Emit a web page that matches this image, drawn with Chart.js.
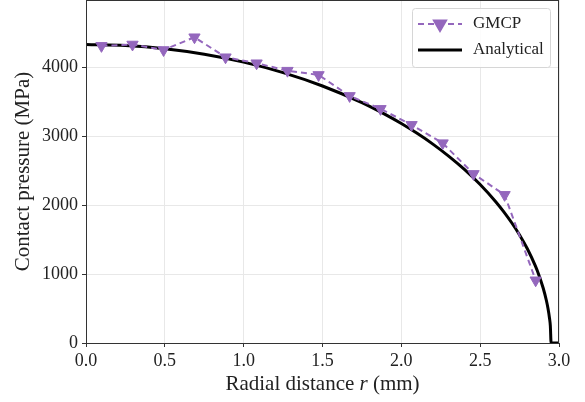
<!DOCTYPE html>
<html>
<head>
<meta charset="utf-8">
<script src="https://cdn.jsdelivr.net/npm/chart.js@4.4.1/dist/chart.umd.min.js"></script>
<style>
  html, body { margin: 0; padding: 0; background: #fff; }
  #wrap { width: 585px; height: 402px; }
</style>
</head>
<body>
<div id="wrap"><canvas id="chart"></canvas></div>
<script>
// radial positions (mm) and pressures (MPa)
const gmcpR = [0.098, 0.295, 0.492, 0.688, 0.885, 1.082, 1.278, 1.475, 1.672, 1.868, 2.065, 2.262, 2.458, 2.655, 2.852];
const gmcpP = [4310, 4330, 4250, 4435, 4145, 4058, 3950, 3888, 3584, 3396, 3164, 2899, 2453, 2149, 910];

const analyticR = [0, 0.25, 0.5, 0.75, 1.0, 1.25, 1.5, 1.75, 1.9, 2.0, 2.1, 2.2, 2.3, 2.4, 2.5, 2.6, 2.65, 2.7, 2.75, 2.8, 2.85, 2.87, 2.9, 2.92, 2.93, 2.94, 2.945, 2.95, 3.0];
const analyticP = [4330, 4314, 4267, 4188, 4074, 3922, 3728, 3486, 3312, 3183, 3041, 2885, 2711, 2518, 2299, 2046, 1902, 1744, 1567, 1363, 1118, 1002, 794, 616, 503, 356, 252, 0, 0];

const xTicks = [0, 0.5, 1.0, 1.5, 2.0, 2.5, 3.0];
const yTicks = [0, 1000, 2000, 3000, 4000];

const PURPLE = "#9467bd";
const SERIF = "'Liberation Serif', 'DejaVu Serif', serif";

const toPoints = (xs, ys) => xs.map((x, i) => ({ x: x, y: ys[i] }));

// frame, x title with italic r, and the legend box
const decorations = {
    id: "decorations",
    afterDraw(chart) {
        const ctx = chart.ctx;
        const a = chart.chartArea;
        ctx.save();
        ctx.strokeStyle = "#333";
        ctx.lineWidth = 1;
        ctx.strokeRect(a.left + 0.5, a.top + 0.5, a.right - a.left - 1, a.bottom - a.top);

        // x axis title
        ctx.fillStyle = "#222";
        ctx.textBaseline = "alphabetic";
        const parts = [
            ["Radial distance ", "21px " + SERIF],
            ["r", "italic 21px " + SERIF],
            [" (mm)", "21px " + SERIF],
        ];
        let total = 0;
        parts.forEach((p) => { ctx.font = p[1]; total += ctx.measureText(p[0]).width; });
        let x = (a.left + a.right) / 2 - total / 2;
        parts.forEach((p) => {
            ctx.font = p[1];
            ctx.fillText(p[0], x, 390);
            x += ctx.measureText(p[0]).width;
        });

        // legend
        const bx = 412, by = 8, bw = 138, bh = 59;
        ctx.beginPath();
        ctx.roundRect(bx + 0.5, by + 0.5, bw, bh, 3);
        ctx.fillStyle = "rgba(255,255,255,0.85)";
        ctx.fill();
        ctx.strokeStyle = "#d6d6d6";
        ctx.stroke();

        const lx0 = 418, lx1 = 462, y1 = 24, y2 = 50;
        ctx.strokeStyle = PURPLE;
        ctx.lineWidth = 2;
        ctx.setLineDash([6, 4]);
        ctx.beginPath();
        ctx.moveTo(lx0, y1);
        ctx.lineTo(lx1, y1);
        ctx.stroke();
        ctx.setLineDash([]);
        ctx.fillStyle = PURPLE;
        Chart.helpers.drawPoint(ctx, {
            pointStyle: "triangle", rotation: 180, radius: 7, borderWidth: 1
        }, (lx0 + lx1) / 2, y1);

        ctx.strokeStyle = "#000";
        ctx.lineWidth = 3;
        ctx.beginPath();
        ctx.moveTo(lx0, y2);
        ctx.lineTo(lx1, y2);
        ctx.stroke();

        ctx.fillStyle = "#222";
        ctx.font = "17px " + SERIF;
        ctx.textBaseline = "middle";
        ctx.textAlign = "left";
        ctx.fillText("GMCP", 473, y1);
        ctx.fillText("Analytical", 473, y2);
        ctx.restore();
    },
};

new Chart(document.getElementById("chart"), {
    type: "scatter",
    data: {
        datasets: [
            {
                label: "Analytical",
                data: toPoints(analyticR, analyticP),
                showLine: true,
                borderColor: "#000",
                borderWidth: 3,
                pointRadius: 0,
                cubicInterpolationMode: "monotone",
                order: 2,
            },
            {
                label: "GMCP",
                data: toPoints(gmcpR, gmcpP),
                showLine: true,
                borderColor: PURPLE,
                borderWidth: 2,
                borderDash: [6, 4],
                pointStyle: "triangle",
                rotation: 180,
                pointRadius: 6.5,
                pointBackgroundColor: PURPLE,
                pointBorderColor: PURPLE,
                pointBorderWidth: 1,
                order: 1,
            },
        ],
    },
    options: {
        responsive: true,
        maintainAspectRatio: false,
        animation: false,
        layout: { autoPadding: false, padding: { top: 0, right: 26, left: 0, bottom: 0 } },
        plugins: {
            legend: { display: false },
            tooltip: { enabled: false },
        },
        scales: {
            x: {
                type: "linear",
                min: 0,
                max: 3.0,
                afterBuildTicks: (axis) => { axis.ticks = xTicks.map((v) => ({ value: v })); },
                afterFit: (axis) => {
                    axis.height = 59;
                    axis.paddingLeft = 0;
                    axis.paddingRight = 0;
                },
                ticks: {
                    color: "#222",
                    font: { family: SERIF, size: 18 },
                    padding: 3,
                    maxRotation: 0,
                    callback: (v) => v.toFixed(1),
                },
                grid: { color: "#e8e8e8", tickColor: "#333", tickLength: 4 },
                border: { display: true, color: "#333" },
            },
            y: {
                type: "linear",
                min: 0,
                max: 4975,
                afterBuildTicks: (axis) => { axis.ticks = yTicks.map((v) => ({ value: v })); },
                afterFit: (axis) => {
                    axis.width = 86;
                    axis.paddingTop = 0;
                    axis.paddingBottom = 0;
                },
                ticks: {
                    color: "#222",
                    font: { family: SERIF, size: 18 },
                    padding: 4,
                    callback: (v) => String(v),
                },
                grid: { color: "#e8e8e8", tickColor: "#333", tickLength: 4 },
                border: { display: true, color: "#333" },
                title: {
                    display: true,
                    text: "Contact pressure (MPa)",
                    color: "#222",
                    font: { family: SERIF, size: 21 },
                    padding: { top: 11, bottom: 2 },
                },
            },
        },
    },
    plugins: [decorations],
});
</script>
</body>
</html>
